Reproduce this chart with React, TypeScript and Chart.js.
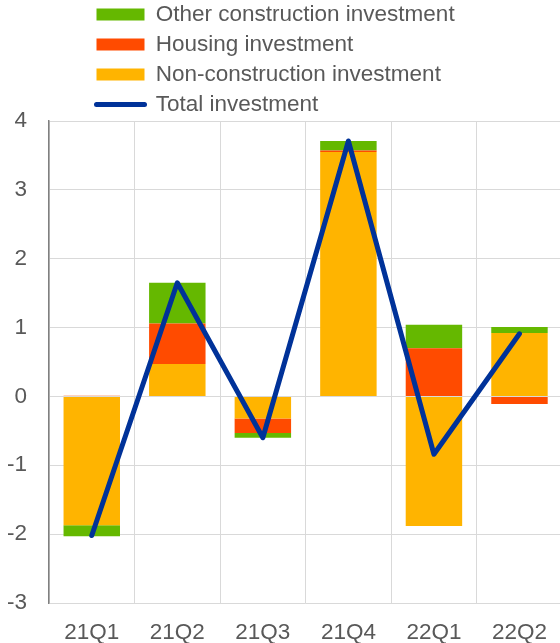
import React, { useEffect, useRef } from 'react';
import { Chart, registerables } from 'chart.js';

Chart.register(...registerables);

const categories = ['21Q1', '21Q2', '21Q3', '21Q4', '22Q1', '22Q2'];
const nonConstruction = [-1.87, 0.47, -0.32, 3.55, -1.88, 0.92];
const housing = [0.01, 0.59, -0.21, 0.02, 0.7, -0.11];
const otherConstruction = [-0.16, 0.59, -0.07, 0.14, 0.34, 0.09];
const totalInvestment = [-2.02, 1.65, -0.6, 3.71, -0.84, 0.91];
const yMin = -3;
const yMax = 4;
const yStep = 1;
const legendOrder = [
  'Other construction investment',
  'Housing investment',
  'Non-construction investment',
  'Total investment',
];

const GREEN = '#65B800';
const RED = '#FF4B00';
const YELLOW = '#FFB400';
const BLUE = '#003299';
const AXIS_GREY = '#808080';
const GRID_GREY = '#d9d9d9';
const TEXT = '#595959';

export default function App() {
  const ref = useRef<HTMLCanvasElement>(null);

  useEffect(() => {
    const canvas = ref.current;
    if (!canvas) return;
    Chart.defaults.font.family = '"Liberation Sans", Arial, sans-serif';

    const axisPlugin = {
      id: 'ecbAxis',
      beforeLayout(chart: any) {
        const lg = chart.legend;
        if (lg && !lg.__patched) {
          const orig = lg.fit.bind(lg);
          lg.fit = () => {
            orig();
            lg.height = 121;
          };
          lg.__patched = true;
        }
      },
      afterLayout(chart: any) {
        const lg = chart.legend;
        if (lg) {
          lg.left = 89;
          lg.top = -4.3;
        }
      },
      afterDatasetDraw(chart: any, args: any) {
        if (args.meta.type !== 'bar' || args.index !== 0) return;
        const ctx = chart.ctx;
        const xs = chart.scales.x;
        const ys = chart.scales.y;
        const { left, right } = chart.chartArea;
        const y0 = ys.getPixelForValue(0);
        ctx.save();
        ctx.strokeStyle = AXIS_GREY;
        ctx.lineWidth = 1.5;
        ctx.beginPath();
        ctx.moveTo(left, y0);
        ctx.lineTo(right, y0);
        for (let i = 0; i <= categories.length; i++) {
          const x = xs.getPixelForValue(i - 0.5);
          ctx.moveTo(x, y0);
          ctx.lineTo(x, y0 + 7);
        }
        ys.ticks.forEach((t: any) => {
          const y = ys.getPixelForValue(t.value);
          ctx.moveTo(left, y);
          ctx.lineTo(left + 7, y);
        });
        ctx.stroke();
        ctx.restore();
      },
    };

    const chart = new Chart(canvas, {
      type: 'bar',
      data: {
        labels: categories,
        datasets: [
          {
            type: 'line',
            label: 'Total investment',
            data: totalInvestment,
            borderColor: BLUE,
            backgroundColor: BLUE,
            borderWidth: 5,
            pointRadius: 0,
            pointBorderWidth: 5,
            pointStyle: 'line',
            borderCapStyle: 'round',
            borderJoinStyle: 'round',
            tension: 0,
            fill: false,
            order: 0,
          } as any,
          {
            label: 'Non-construction investment',
            data: nonConstruction,
            backgroundColor: YELLOW,
            borderWidth: 0,
            pointStyle: 'rect',
            order: 1,
          } as any,
          {
            label: 'Housing investment',
            data: housing,
            backgroundColor: RED,
            borderWidth: 0,
            pointStyle: 'rect',
            order: 1,
          } as any,
          {
            label: 'Other construction investment',
            data: otherConstruction,
            backgroundColor: GREEN,
            borderWidth: 0,
            pointStyle: 'rect',
            order: 1,
          } as any,
        ],
      },
      options: {
        responsive: false,
        animation: false,
        devicePixelRatio: 1,
        layout: { padding: { left: 7.4, right: 0, top: 0, bottom: 0 } },
        datasets: {
          bar: { barPercentage: 0.66, categoryPercentage: 1 },
        } as any,
        plugins: {
          tooltip: { enabled: false },
          legend: {
            position: 'top',
            align: 'start',
            labels: {
              color: TEXT,
              font: { size: 22.5 },
              usePointStyle: true,
              pointStyleWidth: 48,
              boxWidth: 48,
              boxHeight: 12,
              padding: 7.5,
              sort: (a: any, b: any) => legendOrder.indexOf(a.text) - legendOrder.indexOf(b.text),
              generateLabels: (c: any) =>
                (Chart.defaults.plugins.legend.labels as any).generateLabels(c).map((l: any) =>
                  l.text === 'Total investment'
                    ? { ...l, lineCap: 'round', lineWidth: 5, strokeStyle: BLUE }
                    : l
                ),
            },
          },
        },
        scales: {
          x: {
            stacked: true,
            grid: { color: GRID_GREY, offset: true, drawTicks: false },
            border: { display: false },
            ticks: { color: TEXT, font: { size: 22.5 }, padding: 16, maxRotation: 0 },
            afterFit: (scale: any) => {
              scale.height = 40;
            },
          },
          y: {
            stacked: true,
            min: yMin,
            max: yMax,
            grid: { color: GRID_GREY, drawTicks: false },
            border: { color: AXIS_GREY, width: 1.5 },
            ticks: { color: TEXT, font: { size: 22.5 }, padding: 22, stepSize: yStep },
            afterFit: (scale: any) => {
              scale.width = 41.6;
            },
          },
        },
      },
      plugins: [axisPlugin],
    });

    return () => chart.destroy();
  }, []);

  return (
    <div
      style={{
        position: 'absolute',
        left: 0,
        top: 0,
        width: 560,
        height: 643,
        overflow: 'hidden',
        background: '#fff',
      }}
    >
      <canvas ref={ref} width={563} height={643} style={{ display: 'block' }} />
    </div>
  );
}
